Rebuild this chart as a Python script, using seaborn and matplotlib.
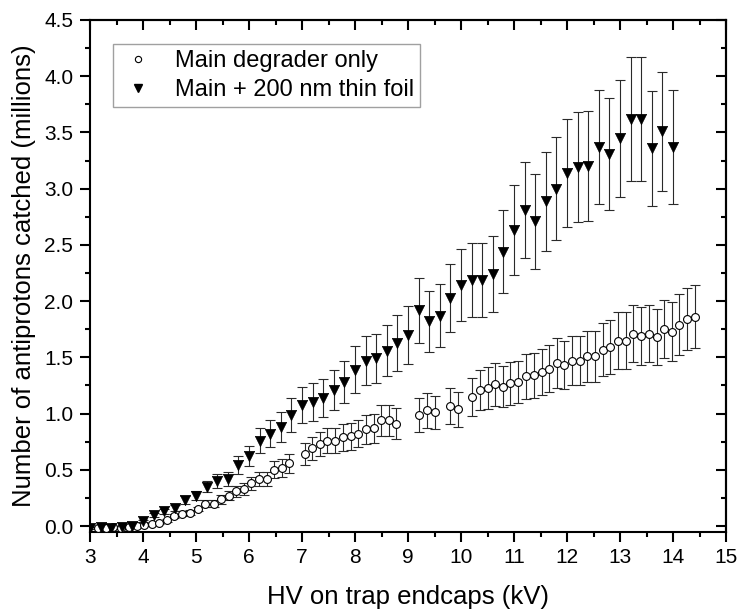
import numpy as np
import pandas as pd
import seaborn as sns
import matplotlib
matplotlib.use("Agg")
import matplotlib.pyplot as plt
from matplotlib.ticker import MultipleLocator
from matplotlib.lines import Line2D

# %% Data

# Main degrader only (open circles)
main_x = [3.15, 3.30, 3.44, 3.59, 3.73, 3.88, 4.02, 4.16, 4.30, 4.45, 4.59,
          4.73, 4.89, 5.04, 5.17, 5.33, 5.47, 5.62, 5.75, 5.90, 6.04, 6.19,
          6.33, 6.48, 6.62, 6.76, 7.06, 7.19, 7.34, 7.48, 7.63, 7.77, 7.92,
          8.06, 8.21, 8.35, 8.49, 8.64, 8.78, 9.21, 9.36, 9.50, 9.79, 9.94,
          10.21, 10.35, 10.50, 10.64, 10.79, 10.93, 11.08, 11.23, 11.37,
          11.52, 11.66, 11.81, 11.95, 12.09, 12.24, 12.38, 12.53, 12.67,
          12.82, 12.96, 13.11, 13.25, 13.40, 13.54, 13.69, 13.83, 13.98,
          14.12, 14.27, 14.41]
main_y = [-0.02, -0.02, -0.01, -0.02, -0.01, 0.00, 0.01, 0.02, 0.03, 0.05,
          0.09, 0.11, 0.12, 0.15, 0.20, 0.20, 0.24, 0.27, 0.31, 0.33, 0.38,
          0.42, 0.42, 0.50, 0.52, 0.56, 0.64, 0.69, 0.73, 0.76, 0.76, 0.79,
          0.80, 0.82, 0.86, 0.87, 0.94, 0.94, 0.91, 0.99, 1.03, 1.01, 1.07,
          1.04, 1.15, 1.21, 1.23, 1.26, 1.24, 1.27, 1.28, 1.33, 1.34, 1.37,
          1.40, 1.45, 1.43, 1.47, 1.47, 1.51, 1.51, 1.57, 1.59, 1.65, 1.65,
          1.71, 1.69, 1.71, 1.68, 1.75, 1.73, 1.79, 1.84, 1.86]
main_err = [0.01, 0.01, 0.01, 0.01, 0.01, 0.01, 0.01, 0.01, 0.01, 0.01,
            0.015, 0.02, 0.02, 0.02, 0.03, 0.03, 0.04, 0.04, 0.05, 0.05, 0.06,
            0.06, 0.06, 0.075, 0.08, 0.085, 0.10, 0.10, 0.11, 0.11, 0.11, 0.12,
            0.12, 0.12, 0.13, 0.13, 0.14, 0.14, 0.14, 0.15, 0.155, 0.15, 0.16,
            0.155, 0.17, 0.18, 0.185, 0.19, 0.185, 0.19, 0.19, 0.20, 0.20,
            0.205, 0.21, 0.22, 0.215, 0.22, 0.22, 0.225, 0.225, 0.235, 0.24,
            0.25, 0.25, 0.255, 0.255, 0.255, 0.25, 0.26, 0.26, 0.27, 0.275,
            0.28]

# Main + 200 nm thin foil (filled down triangles)
foil_x = [3.0, 3.2, 3.4, 3.6, 3.8, 4.0, 4.2, 4.4, 4.6, 4.8, 5.0, 5.2, 5.4,
          5.6, 5.8, 6.0, 6.2, 6.4, 6.6, 6.8, 7.0, 7.2, 7.4, 7.6, 7.8, 8.0,
          8.2, 8.4, 8.6, 8.8, 9.0, 9.2, 9.4, 9.6, 9.8, 10.0, 10.2, 10.4,
          10.6, 10.8, 11.0, 11.2, 11.4, 11.6, 11.8, 12.0, 12.2, 12.4, 12.6,
          12.8, 13.0, 13.2, 13.4, 13.6, 13.8, 14.0]
foil_y = [-0.02, -0.01, -0.02, -0.01, 0.00, 0.045, 0.10, 0.13, 0.16, 0.23,
          0.27, 0.35, 0.40, 0.42, 0.54, 0.62, 0.76, 0.82, 0.88, 0.99, 1.08,
          1.10, 1.14, 1.21, 1.28, 1.39, 1.47, 1.49, 1.56, 1.63, 1.70, 1.92,
          1.82, 1.87, 2.03, 2.14, 2.19, 2.19, 2.24, 2.44, 2.63, 2.81, 2.71,
          2.89, 3.00, 3.14, 3.19, 3.20, 3.37, 3.31, 3.45, 3.62, 3.62, 3.36,
          3.51, 3.37]
foil_err = [0.01, 0.01, 0.01, 0.01, 0.01, 0.01, 0.015, 0.02, 0.025, 0.035,
            0.04, 0.05, 0.06, 0.06, 0.08, 0.09, 0.11, 0.12, 0.13, 0.15, 0.16,
            0.17, 0.17, 0.18, 0.19, 0.21, 0.22, 0.22, 0.23, 0.25, 0.26, 0.29,
            0.27, 0.28, 0.30, 0.32, 0.33, 0.33, 0.34, 0.37, 0.40, 0.43, 0.42,
            0.44, 0.46, 0.48, 0.49, 0.49, 0.51, 0.50, 0.52, 0.55, 0.55, 0.51,
            0.53, 0.51]

lbl_main = "Main degrader only"
lbl_foil = "Main + 200 nm thin foil"

df_main = pd.DataFrame({"hv": main_x, "n": main_y, "err": main_err})
df_foil = pd.DataFrame({"hv": foil_x, "n": foil_y, "err": foil_err})

# %% Plot

sns.set_theme(style="ticks")
plt.rcParams["font.family"] = ["Liberation Sans", "DejaVu Sans"]
plt.rcParams["text.color"] = "black"
plt.rcParams["axes.labelcolor"] = "black"
plt.rcParams["xtick.color"] = "black"
plt.rcParams["ytick.color"] = "black"

fig, ax = plt.subplots(figsize=(7.41, 6.11), dpi=100)
fig.subplots_adjust(left=0.1215, right=0.9798, top=0.9673, bottom=0.1298)

# error bars first, markers on top
str_bar = "#2a2a2a"
ax.errorbar(df_main["hv"], df_main["n"], yerr=df_main["err"], fmt="none",
            ecolor=str_bar, elinewidth=0.8, capsize=3.5, capthick=0.8,
            zorder=2)
ax.errorbar(df_foil["hv"], df_foil["n"], yerr=df_foil["err"], fmt="none",
            ecolor=str_bar, elinewidth=0.8, capsize=3.5, capthick=0.8,
            zorder=2)

sns.scatterplot(data=df_main, x="hv", y="n", marker="o", s=32,
                facecolor="white", edgecolor="black", linewidth=0.8,
                ax=ax, zorder=3, legend=False)
sns.scatterplot(data=df_foil, x="hv", y="n", marker="v", s=55,
                color="black", edgecolor="black", linewidth=0.5,
                ax=ax, zorder=3, legend=False)

ax.set_xlim(3, 15)
ax.set_ylim(-0.05, 4.5)
ax.xaxis.set_major_locator(MultipleLocator(1))
ax.xaxis.set_minor_locator(MultipleLocator(0.5))
ax.yaxis.set_major_locator(MultipleLocator(0.5))
ax.yaxis.set_minor_locator(MultipleLocator(0.25))
ax.yaxis.set_major_formatter(matplotlib.ticker.FormatStrFormatter("%.1f"))

for sp in ax.spines.values():
    sp.set_linewidth(1.5)
    sp.set_color("black")

ax.tick_params(which="major", direction="out", length=7, width=1.5,
               labelsize=15, pad=5, colors="black")
ax.tick_params(which="minor", direction="out", length=3.5, width=1.5,
               colors="black")

# mirrored ticks pointing inward on top and right
secx = ax.secondary_xaxis("top")
secx.xaxis.set_major_locator(MultipleLocator(1))
secx.xaxis.set_minor_locator(MultipleLocator(0.5))
secx.tick_params(which="major", direction="in", length=7, width=1.5,
                 labeltop=False, colors="black")
secx.tick_params(which="minor", direction="in", length=3.5, width=1.5,
                 colors="black")
secx.spines["top"].set_linewidth(1.5)
secx.spines["top"].set_color("black")

secy = ax.secondary_yaxis("right")
secy.yaxis.set_major_locator(MultipleLocator(0.5))
secy.yaxis.set_minor_locator(MultipleLocator(0.25))
secy.tick_params(which="major", direction="in", length=7, width=1.5,
                 labelright=False, colors="black")
secy.tick_params(which="minor", direction="in", length=3.5, width=1.5,
                 colors="black")
secy.spines["right"].set_linewidth(1.5)
secy.spines["right"].set_color("black")

ax.set_xlabel("HV on trap endcaps (kV)", fontsize=18.5, labelpad=13,
              color="black")
ax.set_ylabel("Number of antiprotons catched (millions)", fontsize=18.5,
              labelpad=6, color="black")

handles = [Line2D([], [], linestyle="none", marker="o", markersize=4.5,
                  markerfacecolor="white", markeredgecolor="black",
                  markeredgewidth=0.8),
           Line2D([], [], linestyle="none", marker="v", markersize=6,
                  color="black")]
leg = ax.legend(handles, [lbl_main, lbl_foil], loc="upper left",
                bbox_to_anchor=(0.0357, 0.953), borderaxespad=0,
                fontsize=17, frameon=True, fancybox=False,
                handletextpad=0.8, labelspacing=0.3, borderpad=0.25,
                handlelength=1.6)
leg.get_frame().set_edgecolor("#888888")
leg.get_frame().set_linewidth(1.0)
for txt in leg.get_texts():
    txt.set_color("black")

fig.savefig("out.png", dpi=100)
